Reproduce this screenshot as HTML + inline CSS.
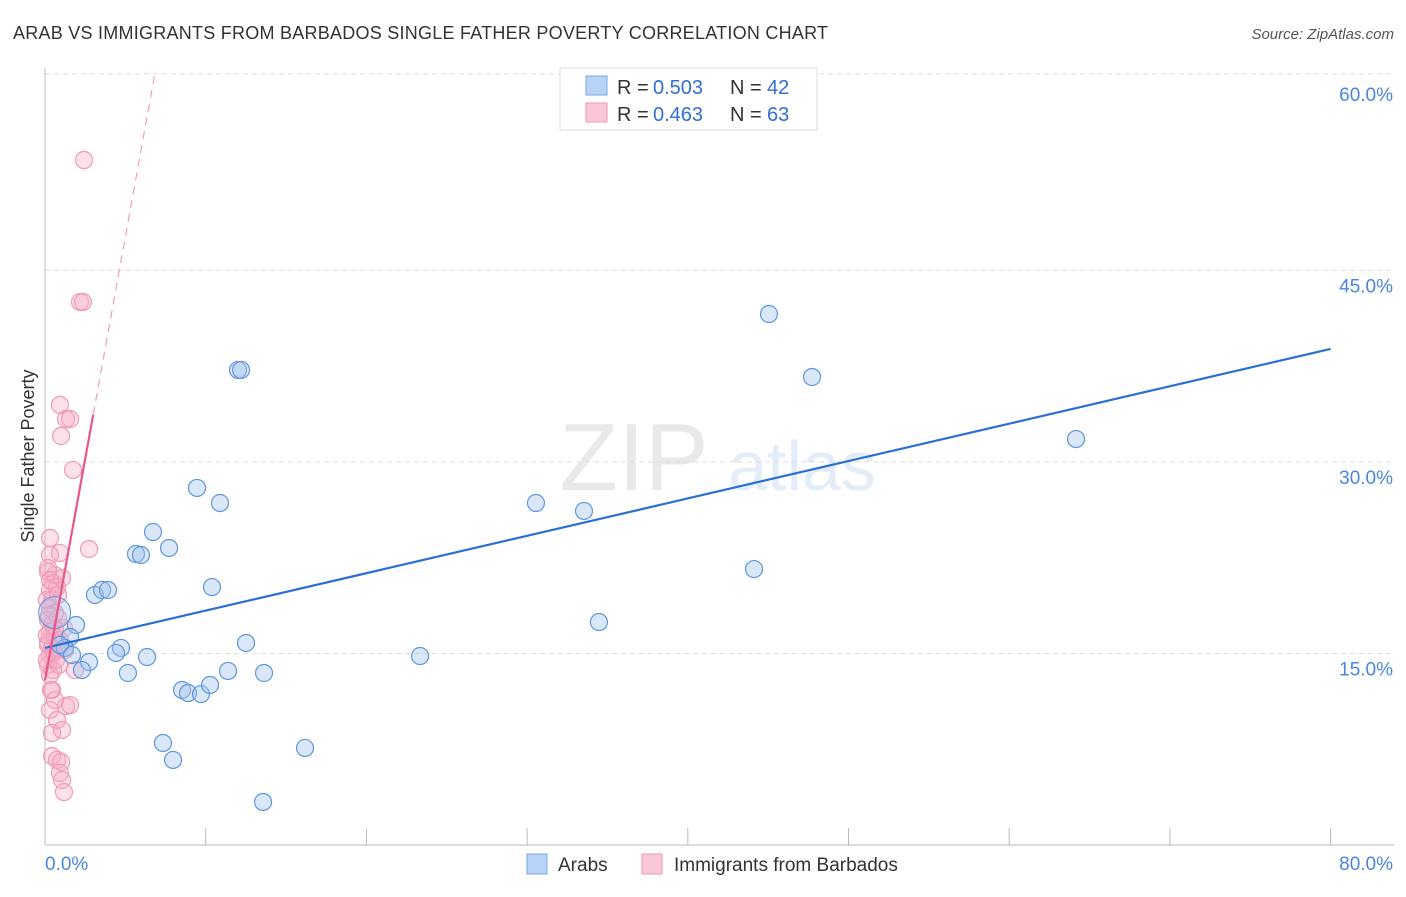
<!DOCTYPE html>
<html><head><meta charset="utf-8">
<style>
body{margin:0;background:#fff;font-family:"Liberation Sans",sans-serif;}
svg text{font-family:"Liberation Sans",sans-serif;}
</style></head>
<body>
<svg id="chart" width="1406" height="892" xmlns="http://www.w3.org/2000/svg">
<text x="13" y="39" font-size="18" fill="#333" textLength="815">ARAB VS IMMIGRANTS FROM BARBADOS SINGLE FATHER POVERTY CORRELATION CHART</text>
<text x="1394" y="39" font-size="15" fill="#555" font-style="italic" text-anchor="end">Source: ZipAtlas.com</text>
<text transform="translate(34,456) rotate(-90)" font-size="18" fill="#333" text-anchor="middle">Single Father Poverty</text>
<g opacity="0.18">
<text x="634" y="490" font-size="96" font-family="Liberation Serif" fill="#888" text-anchor="middle">ZIP</text>
<text x="802" y="490" font-size="70" fill="#6aa0e0" text-anchor="middle">atlas</text>
</g>
<g id="grid"></g><g id="axes"></g><g id="marks"></g>
<g>
<rect x="560" y="68" width="257" height="62" fill="#fff" stroke="#ddd"/>
<rect x="586" y="76" width="21" height="19" fill="#b8d3f5" stroke="#7aa8e6"/>
<rect x="586" y="103" width="21" height="19" fill="#fac7d6" stroke="#f09ab5"/>
<text x="617" y="94" font-size="20" fill="#333">R =</text>
<text x="653" y="94" font-size="20" fill="#2f6fd6">0.503</text>
<text x="730" y="94" font-size="20" fill="#333">N =</text>
<text x="767" y="94" font-size="20" fill="#2f6fd6">42</text>
<text x="617" y="121" font-size="20" fill="#333">R =</text>
<text x="653" y="121" font-size="20" fill="#2f6fd6">0.463</text>
<text x="730" y="121" font-size="20" fill="#333">N =</text>
<text x="767" y="121" font-size="20" fill="#2f6fd6">63</text>
</g>
<g>
<rect x="527" y="854" width="20" height="20" fill="#b8d3f5" stroke="#7aa8e6"/>
<text x="558" y="871" font-size="19" fill="#333">Arabs</text>
<rect x="642" y="854" width="20" height="20" fill="#fac7d6" stroke="#f09ab5"/>
<text x="674" y="871" font-size="19" fill="#333">Immigrants from Barbados</text>
</g>
</svg>
<script>
const yTicks=[15,30,45,60];
const yTickLabels=["15.0%","30.0%","45.0%","60.0%"];
const xTicks=[0,10,20,30,40,50,60,70,80];
const xEndLabels=["0.0%","80.0%"];
const arabPx=[[769,314],[812,377],[1076,439],[238,370],[241,370],[197,488],[220,503],[536,503],[584,511],[153,532],[136,554],[141,555],[169,548],[754,569],[212,587],[95,595],[102,590],[108,590],[599,622],[76,625],[70,637],[65,648],[246,643],[121,648],[116,653],[147,657],[89,662],[82,670],[420,656],[128,673],[228,671],[264,673],[182,690],[188,693],[201,694],[210,685],[163,743],[173,760],[305,748],[263,802],[60,645],[72,655]];
const barbPx=[[84,160],[80,302],[83,302],[60,405],[66,419],[70,419],[61,436],[73,470],[89,549],[50,538],[60,553],[50,555],[48,572],[55,575],[53,583],[50,590],[57,587],[52,600],[50,608],[55,613],[48,620],[52,625],[50,632],[55,637],[48,642],[52,648],[50,655],[56,660],[48,665],[53,670],[50,675],[75,670],[60,640],[65,650],[55,628],[58,618],[48,645],[52,690],[55,700],[50,710],[66,706],[70,705],[57,720],[52,733],[62,730],[52,756],[57,760],[61,762],[60,773],[62,780],[64,792],[47,660],[47,600],[58,595],[62,578],[48,568],[50,580],[49,615],[54,652],[59,665],[47,635],[51,690],[64,628]];
const arabX=arabPx.map(p=>+((p[0]-45)/16.07).toFixed(2));
const arabY=arabPx.map(p=>+((845-p[1])/12.77).toFixed(2));
const barbX=barbPx.map(p=>+((p[0]-45)/16.07).toFixed(2));
const barbY=barbPx.map(p=>+((845-p[1])/12.77).toFixed(2));
const arabTrend=[[0,15.43],[80,38.85]];
const barbTrendSolid=[[0,12.9],[3.0,33.7]];
const barbTrendDash=[[3.0,33.7],[6.85,60.5]];

const X=v=>45+v*16.07, Y=v=>845-v*12.77;
const NS="http://www.w3.org/2000/svg";
function mk(tag,attrs,parent){const e=document.createElementNS(NS,tag);for(const k in attrs)e.setAttribute(k,attrs[k]);document.getElementById(parent).appendChild(e);return e;}
const gridTop=mk('line',{x1:45,x2:1394,y1:Y(60.4),y2:Y(60.4),stroke:'#ddd','stroke-dasharray':'5,4'},'grid');


yTicks.slice(0,3).forEach(t=>{
 const g=mk('line',{x1:45,x2:1394,y1:Y(t),y2:Y(t),stroke:'#ddd','stroke-dasharray':'5,4'},'grid');
 
 
});
yTicks.forEach((t,i)=>{
 const tx=mk('text',{x:1393,y:Y(t)+22,'font-size':19,fill:'#4a86e0','text-anchor':'end'},'axes');
 tx.textContent=yTickLabels[i];
 
 
});
const ya=mk('line',{x1:45,x2:45,y1:68,y2:845,stroke:'#bbb'},'axes');


const xa=mk('line',{x1:45,x2:1394,y1:845,y2:845,stroke:'#bbb'},'axes');


xTicks.forEach(t=>{
 const l=mk('line',{x1:X(t),x2:X(t),y1:828,y2:845,stroke:'#bbb'},'axes');
 
 
});
const xl0=mk('text',{x:45,y:870,'font-size':19,fill:'#4a86e0'},'axes');xl0.textContent=xEndLabels[0];


const xl1=mk('text',{x:1393,y:870,'font-size':19,fill:'#4a86e0','text-anchor':'end'},'axes');xl1.textContent=xEndLabels[1];



barbX.forEach((x,i)=>{
 const c=mk('circle',{cx:X(x),cy:Y(barbY[i]),r:8.5,fill:'rgba(247,170,195,0.35)',stroke:'#f09ab5','stroke-width':1.2},'marks');
 
 
});
arabX.forEach((x,i)=>{
 const c=mk('circle',{cx:X(x),cy:Y(arabY[i]),r:8.5,fill:'rgba(160,196,240,0.4)',stroke:'#5f96e0','stroke-width':1.2},'marks');
 
 
});
const big=mk('circle',{cx:X(0.6),cy:Y(18.2),r:16,fill:'rgba(160,196,240,0.35)',stroke:'#5f96e0','stroke-width':1},'marks');


const at=mk('line',{x1:X(arabTrend[0][0]),y1:Y(arabTrend[0][1]),x2:X(arabTrend[1][0]),y2:Y(arabTrend[1][1]),stroke:'#2a6fd6','stroke-width':2.2},'marks');


const bt=mk('line',{x1:X(barbTrendSolid[0][0]),y1:Y(barbTrendSolid[0][1]),x2:X(barbTrendSolid[1][0]),y2:Y(barbTrendSolid[1][1]),stroke:'#e9578a','stroke-width':2.2},'marks');


const bd=mk('line',{x1:X(barbTrendDash[0][0]),y1:Y(barbTrendDash[0][1]),x2:X(barbTrendDash[1][0]),y2:Y(barbTrendDash[1][1]),stroke:'#eea0bb','stroke-width':1.2,'stroke-dasharray':'8,6'},'marks');


</script>
</body></html>
